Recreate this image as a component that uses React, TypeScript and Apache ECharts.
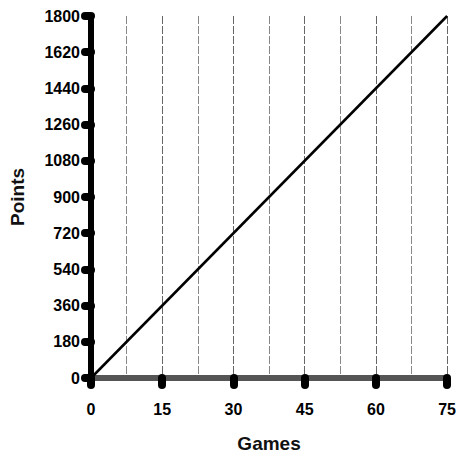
import React, { useEffect, useRef } from "react";
import * as echarts from "echarts";

const games = [0, 75];
const points = [0, 1800];
const xMax = 75;
const xStep = 15;
const yMax = 1800;
const yStep = 180;

const FONT = "'Liberation Sans', Arial, sans-serif";

export default function App() {
  const ref = useRef<HTMLDivElement>(null);
  useEffect(() => {
    if (!ref.current) return;
    const chart = echarts.init(ref.current, undefined, { renderer: "svg" });
    chart.setOption({
      animation: false,
      backgroundColor: "#ffffff",
      grid: { left: 91, right: 9, top: 16, bottom: 70, containLabel: false },
      xAxis: {
        type: "value",
        min: 0,
        max: xMax,
        interval: xStep,
        name: "Games",
        nameLocation: "middle",
        nameGap: 56,
        nameTextStyle: { fontFamily: FONT, fontSize: 19, fontWeight: "bold", color: "#111" },
        axisLine: { show: true, onZero: false, lineStyle: { color: "#555", width: 6 } },
        axisTick: { show: true, length: 7, lineStyle: { color: "#000", width: 8, cap: "round" } },
        axisLabel: {
          margin: 23,
          fontFamily: FONT,
          fontSize: 16,
          fontWeight: "bold",
          color: "#000",
          formatter: (v: number) => String(v),
        },
        splitLine: { show: true, lineStyle: { color: "#666", width: 1, type: [8, 2] } },
        minorTick: { show: false, splitNumber: 2 },
        minorSplitLine: { show: true, lineStyle: { color: "#888", width: 1, type: [8, 2] } },
      },
      yAxis: {
        type: "value",
        min: 0,
        max: yMax,
        interval: yStep,
        name: "Points",
        nameLocation: "middle",
        nameGap: 64,
        nameRotate: 90,
        nameTextStyle: { fontFamily: FONT, fontSize: 19, fontWeight: "bold", color: "#111" },
        axisLine: { show: true, onZero: false, lineStyle: { color: "#000", width: 6 } },
        axisTick: { show: true, length: 6, lineStyle: { color: "#000", width: 8, cap: "round" } },
        axisLabel: {
          margin: 11,
          fontFamily: FONT,
          fontSize: 16,
          fontWeight: "bold",
          color: "#000",
          formatter: (v: number) => String(v),
        },
        splitLine: { show: false },
      },
      series: [
        {
          type: "line",
          data: games.map((g, i) => [g, points[i]]),
          showSymbol: false,
          lineStyle: { color: "#000", width: 2.5 },
          z: 5,
        },
      ],
    });
    return () => chart.dispose();
  }, []);
  return (
    <div
      ref={ref}
      style={{ position: "fixed", left: 0, top: 0, width: 459, height: 458 }}
    />
  );
}
